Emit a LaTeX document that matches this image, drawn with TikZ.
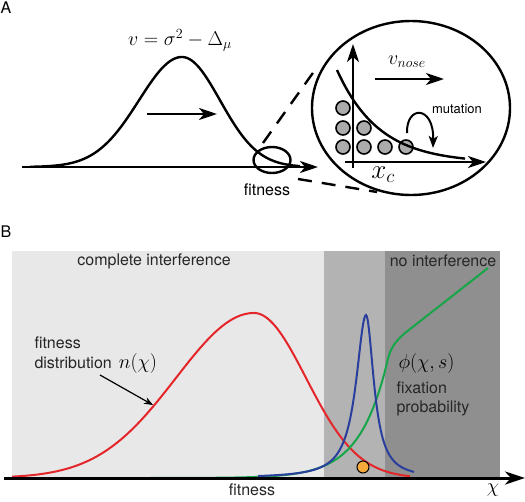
\RequirePackage{fix-cm}
\documentclass[tikz,border=0pt]{standalone}
\usepackage{fontspec}
\setsansfont{TeX Gyre Heros}
\usepackage{amsmath}
\usepackage{tikz}
\usetikzlibrary{arrows.meta}
\definecolor{fitred}{HTML}{E4252A}
\definecolor{fitblue}{HTML}{2A3F9D}
\definecolor{fitgreen}{HTML}{16A548}
\definecolor{bglight}{HTML}{E8E8E8}
\definecolor{bgmid}{HTML}{B3B3B3}
\definecolor{bgdark}{HTML}{8F8F8F}
\definecolor{mutantorange}{HTML}{F7AA3C}
\tikzset{
  lbl/.style={font=\sffamily\fontsize{16}{19}\selectfont},
  smalllbl/.style={font=\sffamily\fontsize{13}{15}\selectfont},
  mth/.style={font=\fontsize{20}{24}\selectfont},
  bigmth/.style={font=\fontsize{27}{32}\selectfont},
  thickline/.style={line width=2.4pt},
  bigarrow/.style={thickline,-{Stealth[length=18pt,width=12pt,inset=5pt]}},
  curve/.style={line width=2pt},
  cell/.style={circle,draw,line width=1.6pt,fill=gray!65,minimum size=14pt,inner sep=0pt},
}

\begin{document}
\begin{tikzpicture}[x=1pt,y=-1pt]
\useasboundingbox (0,0) rectangle (525,501);

% panel A
\node[lbl] (labelA) at (6,8) {A};
\coordinate (axAstart) at (22,167);
\coordinate (axAend) at (318,167);
\draw[bigarrow] (axAstart) -- (axAend);
\draw[thickline] plot[domain=30:300,samples=140] (\x,{167-110*exp(-((\x-182)/(\x<182?43:38))^2/2)});
\node[mth] (speed) at (180,40) {$v=\sigma^2-\Delta_\mu$};
\coordinate (shiftL) at (147,114);
\coordinate (shiftR) at (217,114);
\draw[bigarrow] (shiftL) -- (shiftR);
\draw[thickline] (272,160) ellipse [x radius=18.5,y radius=13];
\node[lbl] (fitA) at (267,190) {fitness};

\coordinate (zoomtop) at (263,143);
\coordinate (lenstop) at (315,70);
\coordinate (zoombot) at (298,179);
\coordinate (lensbot) at (377,192);
\draw[thickline,dash pattern=on 14pt off 10pt] (zoomtop) -- (lenstop);
\draw[thickline,dash pattern=on 14pt off 10pt] (zoombot) -- (lensbot);
\draw[thickline] (411,108) ellipse [x radius=99,y radius=87];

\node[cell] (c1) at (343,147) {};
\node[cell] (c2) at (364,147) {};
\node[cell] (c3) at (385,147) {};
\node[cell] (c4) at (406,147) {};
\node[cell] (c5) at (343,128) {};
\node[cell] (c6) at (364,128) {};
\node[cell] (c7) at (343,108) {};

\coordinate (yaxlow) at (353,168);
\coordinate (yaxhigh) at (353,44);
\coordinate (xaxlow) at (345,162);
\coordinate (xaxhigh) at (486,162);
\draw[bigarrow] (yaxlow) -- (yaxhigh);
\draw[bigarrow] (xaxlow) -- (xaxhigh);
\draw[thickline] plot[domain=337:465,samples=80] (\x,{163-93*exp(-(\x-337)/42)});

\node[mth] (vnose) at (407,62) {$v_{nose}$};
\coordinate (noseL) at (375,79);
\coordinate (noseR) at (444,79);
\draw[bigarrow] (noseL) -- (noseR);
\node[smalllbl] (mutlabel) at (457,109) {mutation};
\draw[line width=2pt,-{Stealth[length=12pt,width=9pt,inset=3pt]}] (c4.north) ++(1,-6) coordinate (hopstart)
  .. controls (406,105) and (434,105) .. (433,148);
\node[bigmth] (xc) at (383,175) {$x_c$};

% panel B
\node[lbl] (labelB) at (6,232) {B};
\fill[bglight] (12,251) rectangle (500,478);
\fill[bgmid] (324,251) rectangle (385,478);
\fill[bgdark] (385,251) rectangle (500,478);
\node[lbl,black!85] (complete) at (154,261) {complete interference};
\node[lbl,black!85] (noint) at (443,261) {no interference};

\draw[fitred,curve] plot[domain=12:410,samples=160] (\x,{478-165*exp(-((\x-254)/(\x<254?78:52))^2/2)});
\draw[fitgreen,curve] plot[domain=150:388,samples=80] (\x,{478-128*exp((\x-390)/28)})
  .. controls (391,346) and (398,339) .. (405,333) -- (488,268);
\draw[fitblue,curve] plot[domain=258:414,samples=160] (\x,{478-163/(1+((\x-366)/(\x<366?12:9.5))^2)});

\coordinate (axBstart) at (4,478);
\coordinate (axBend) at (525,478);
\draw[line width=3pt,-{Stealth[length=20pt,width=13pt,inset=6pt]}] (axBstart) -- (axBend);
\node[circle,draw,fill=mutantorange,minimum size=12pt,inner sep=0pt,line width=1pt] (mutant) at (363,467) {};

\node[lbl,black!85,anchor=west] (fitnesslbl) at (31,343) {fitness};
\node[lbl,black!85,anchor=west] (distlbl) at (31,363) {distribution};
\node[mth,anchor=west] (nchi) at (distlbl.east) {$n(\chi)$};
\coordinate (ptrstart) at (100,375);
\coordinate (ptrend) at (153,405);
\draw[line width=1.2pt,-{Stealth[length=9pt,width=7pt]}] (ptrstart) -- (ptrend);

\node[mth,anchor=west] (phi) at (395,363) {$\phi(\chi,s)$};
\node[lbl,black!85,anchor=west] (fixlbl) at (393,388) {fixation};
\node[lbl,black!85,anchor=west] (problbl) at (393,408) {probability};
\node[lbl,black!85] (fitB) at (252,490) {fitness};
\node[mth] (chi) at (493,490) {$\chi$};
\end{tikzpicture}
\end{document}
